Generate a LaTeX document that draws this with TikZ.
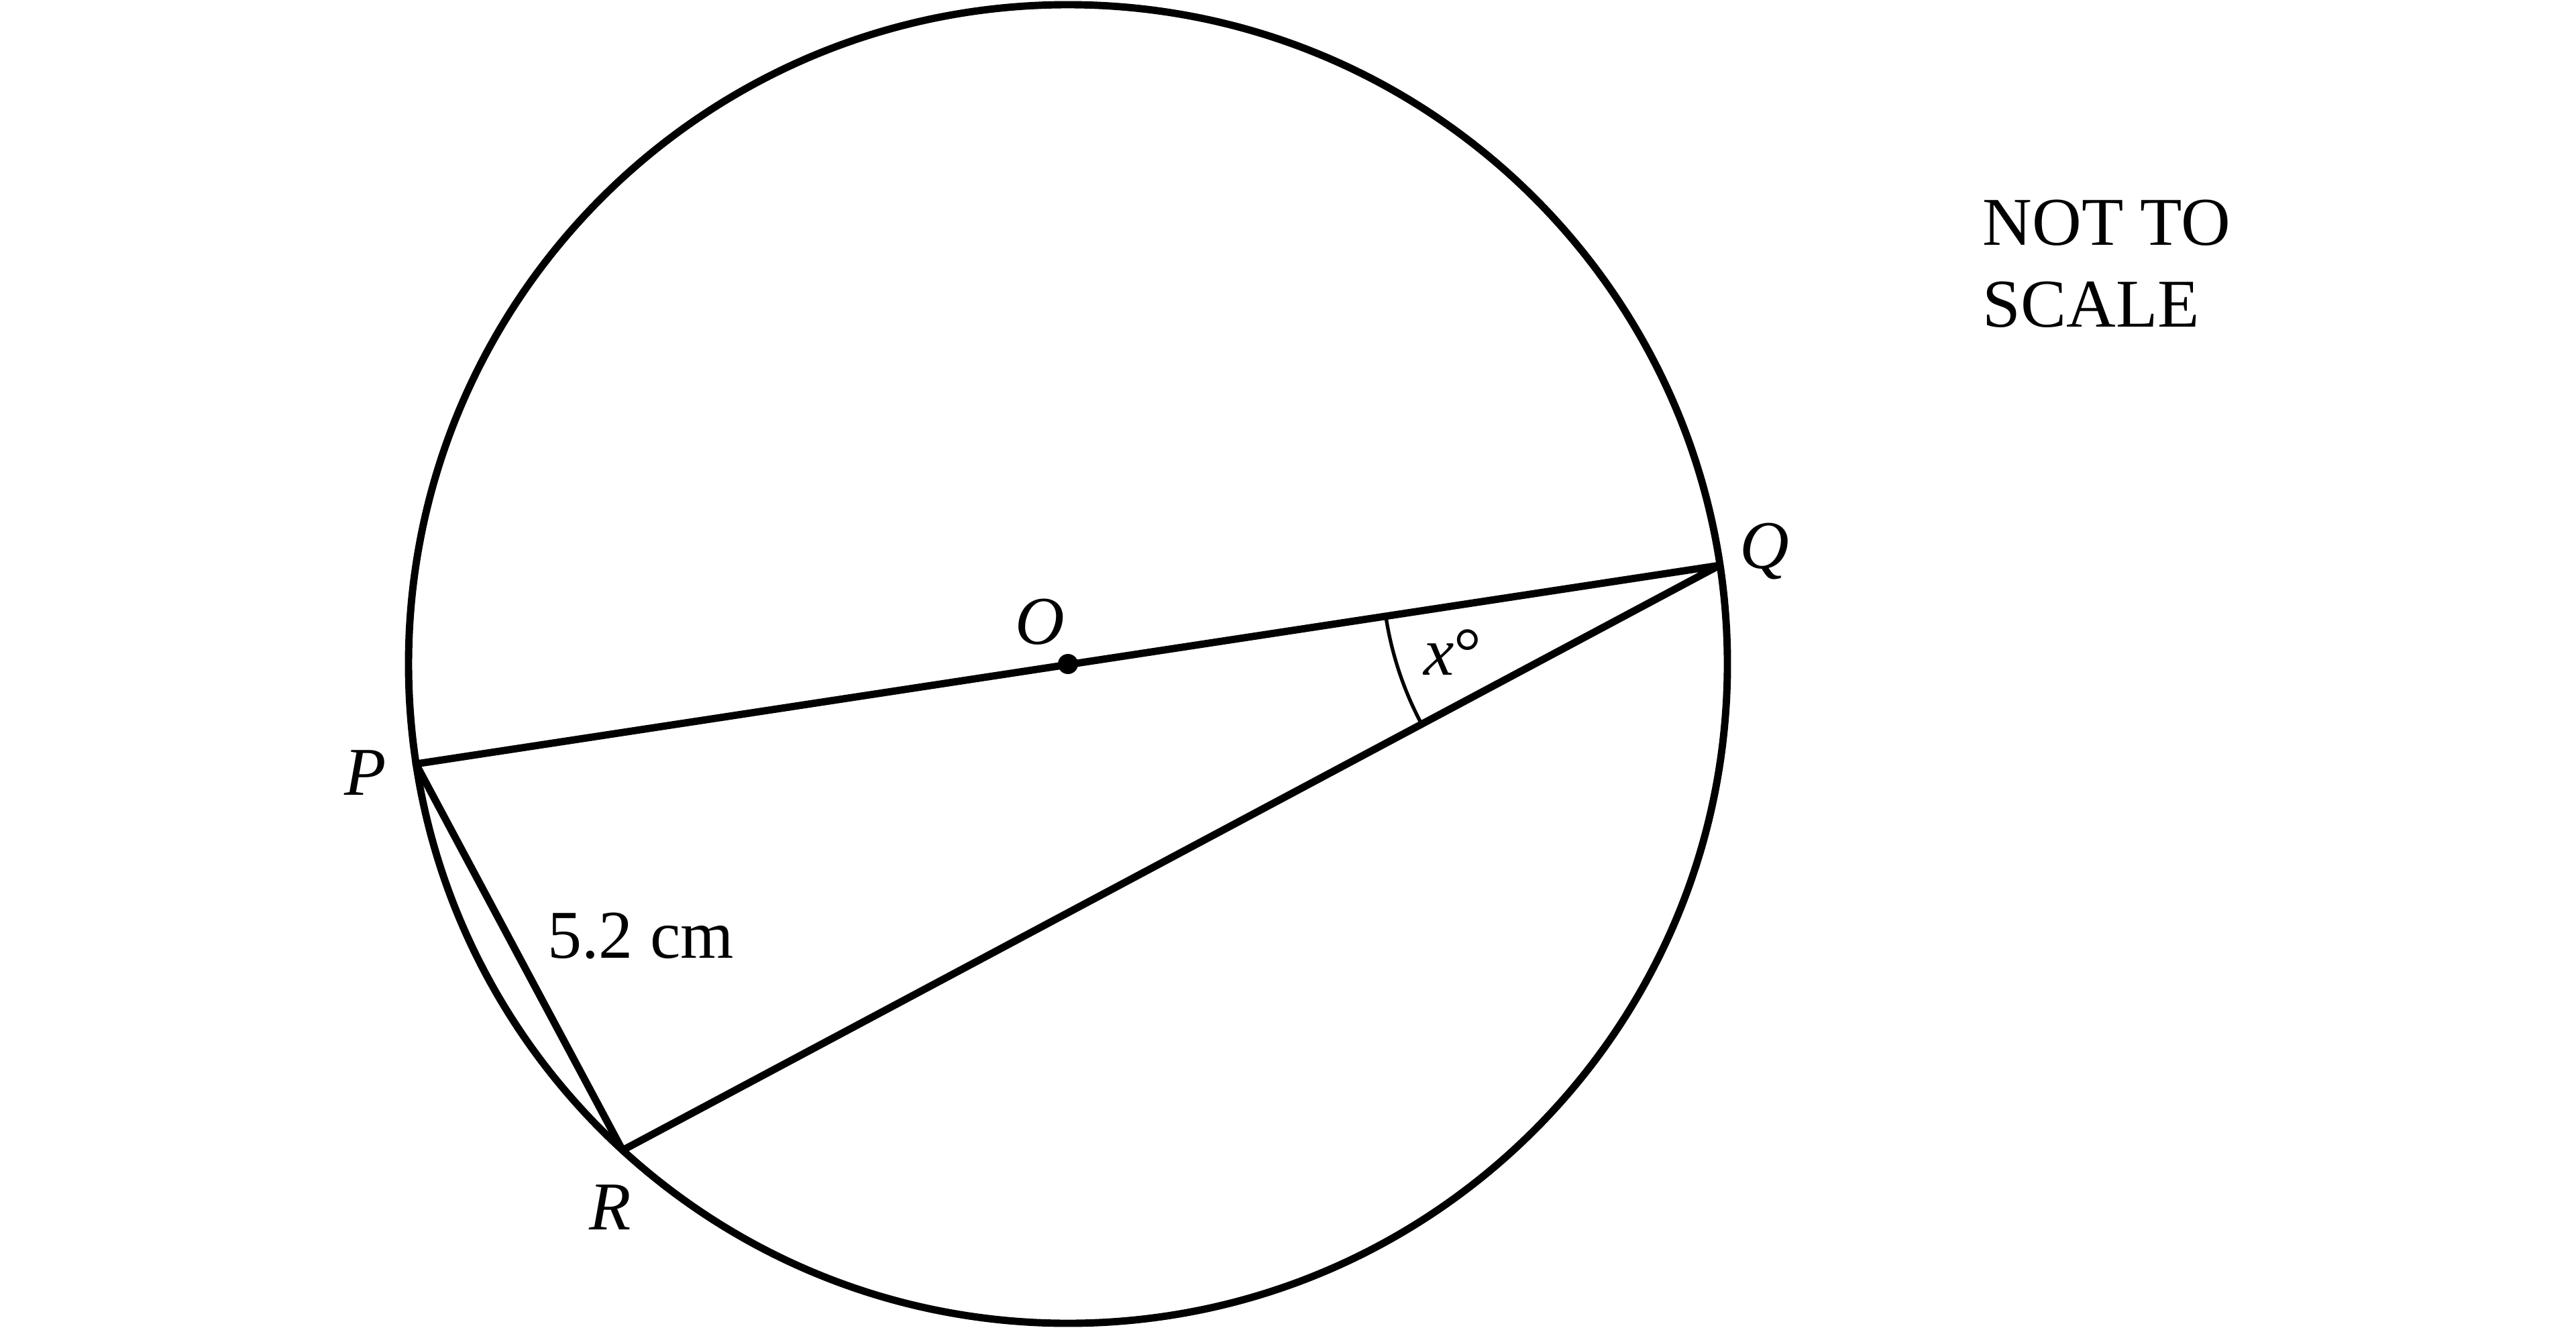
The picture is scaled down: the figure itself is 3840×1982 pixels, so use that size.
\documentclass[tikz,border=0pt]{standalone}
\usepackage{fontspec}
\setmainfont{Liberation Serif}
\begin{document}
\begin{tikzpicture}[x=0.01cm,y=-0.01cm,
  thick line/.style={line width=3.1pt},
  thin line/.style={line width=1.5pt},
  lbl/.style={anchor=base, inner sep=0pt, font=\fontsize{29}{35}\selectfont},
  ilbl/.style={lbl, font=\fontsize{29}{35}\selectfont\itshape}]
\useasboundingbox (0,0) rectangle (3840,1982);
\coordinate (O) at (1592,990);
\coordinate (P) at (620,1139);
\coordinate (Q) at (2563,843);
\coordinate (R) at (928,1715);
\draw[thick line] (O) circle [radius=983];
\draw[thick line, line join=round] (P) -- (Q) -- (R) -- cycle;
\fill (O) circle [radius=15];
\draw[thin line] ([shift={(171.34:503)}]Q) arc [start angle=171.34, end angle=151.93, radius=503];
\node[ilbl] (Pl) at (545,1185) {P};
\node[ilbl] (Ql) at (2630,847) {Q};
\node[ilbl] (Rl) at (910,1833) {R};
\node[ilbl] (Ol) at (1550,960) {O};
\node[lbl] (xl) at (2165,1006) {\textit{x}°};
\node[lbl] (len) at (955,1428) {5.2 cm};
\node[lbl, anchor=base west] (n1) at (2955,365) {NOT TO};
\node[lbl, anchor=base west] (n2) at (2955,487) {SCALE};
\end{tikzpicture}
\end{document}
